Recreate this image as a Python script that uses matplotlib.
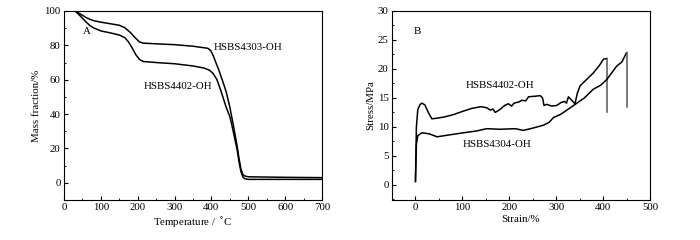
import numpy as np
import matplotlib.pyplot as plt
from matplotlib.ticker import MultipleLocator

plt.rcParams['font.family'] = ['Liberation Serif', 'DejaVu Serif']
plt.rcParams['font.size'] = 7.8

# A: TGA curves
temp_4303 = [30, 40, 50, 60, 70, 80, 100, 125, 150, 165, 180, 195, 205, 215, 250, 300,
             350, 390, 398, 405, 412, 420, 430, 440, 450, 460, 465, 470, 475, 480, 485,
             490, 500, 600, 700]
mass_4303 = [100, 98.8, 97.5, 96.2, 95.2, 94.4, 93.5, 92.6, 91.7, 90.3, 87.5, 84, 82, 81.3,
             80.9, 80.4, 79.5, 78.3, 77, 74, 70, 65.7, 59.5, 53, 44, 33, 27, 21, 14, 8, 5,
             4, 3.5, 3.2, 3.0]
temp_4402 = [30, 40, 50, 60, 70, 80, 100, 125, 150, 165, 175, 185, 195, 205, 215, 250,
             300, 350, 380, 395, 405, 415, 425, 440, 450, 455, 460, 465, 470, 475, 480,
             485, 490, 500, 600, 700]
mass_4402 = [100, 98, 95.8, 93.6, 91.6, 90.2, 88.4, 87.3, 86, 84.5, 82, 78.5, 74.5, 71.8,
             70.6, 70, 69.3, 68, 66.8, 65.5, 63.5, 60, 54, 44, 38.5, 34, 29, 24, 19, 12,
             6.6, 3.5, 2.4, 2.0, 2.0, 2.0]

# B: stress-strain curves
strain_4402 = [0, 2, 5, 10, 14, 20, 28, 35, 45, 60, 80, 101, 120, 140, 152, 160, 165, 170,
               180, 190, 198, 205, 210, 220, 227, 235, 241, 255, 266, 271, 274, 280, 290,
               301, 310, 318, 322, 326, 333, 340, 345, 351, 365, 379, 392, 401, 408, 408]
stress_4402 = [0.6, 10, 13, 13.9, 14.1, 13.8, 12.4, 11.4, 11.5, 11.7, 12.1, 12.7, 13.2, 13.5,
               13.3, 12.9, 13.1, 12.5, 13.0, 13.7, 14.0, 13.6, 14.1, 14.3, 14.6, 14.5, 15.2,
               15.3, 15.4, 15.0, 13.7, 13.9, 13.6, 13.7, 14.2, 14.4, 14.1, 15.2, 14.6, 14.0,
               15.8, 17.1, 18.2, 19.3, 20.6, 21.7, 21.8, 12.5]
strain_4304 = [0, 2, 5, 14, 30, 46, 70, 103, 130, 152, 180, 213, 230, 250, 273, 285, 294,
               310, 337, 360, 379, 395, 408, 429, 440, 450, 450]
stress_4304 = [0.6, 7.0, 8.5, 9.0, 8.8, 8.3, 8.6, 9.0, 9.3, 9.7, 9.6, 9.7, 9.4, 9.8, 10.3,
               10.8, 11.6, 12.2, 13.7, 15.0, 16.5, 17.2, 18.2, 20.5, 21.2, 22.8, 13.4]

fig = plt.figure(figsize=(7, 2.4), dpi=100)
ax1 = fig.add_axes([0.0914, 0.1667, 0.3686, 0.7875])
ax2 = fig.add_axes([0.56, 0.1667, 0.3686, 0.7875])

for ax in (ax1, ax2):
    ax.tick_params(which='both', direction='in', top=False, right=False, labelsize=7.8, pad=2.5)
    ax.tick_params(which='major', length=3)
    ax.tick_params(which='minor', length=1.5)
    for s in ax.spines.values():
        s.set_linewidth(0.8)

ax1.plot(temp_4303, mass_4303, color='black', lw=1.1)
ax1.plot(temp_4402, mass_4402, color='black', lw=1.1)
ax1.set_xlim(0, 700)
ax1.set_ylim(-10, 100)
ax1.xaxis.set_major_locator(MultipleLocator(100))
ax1.xaxis.set_minor_locator(MultipleLocator(50))
ax1.yaxis.set_major_locator(MultipleLocator(20))
ax1.yaxis.set_minor_locator(MultipleLocator(10))
ax1.set_xlabel('Temperature / $^\\circ\\!$C', labelpad=2)
ax1.set_ylabel('Mass fraction/%', labelpad=2)
ax1.text(52, 88, 'A', va='center')
ax1.text(405, 78.7, 'HSBS4303-OH', va='center')
ax1.text(217, 55.8, 'HSBS4402-OH', va='center')

ax2.plot(strain_4402[:-1], stress_4402[:-1], color='black', lw=1.1)
ax2.plot(strain_4402[-2:], stress_4402[-2:], color='#555555', lw=1.1)
ax2.plot(strain_4304[:-1], stress_4304[:-1], color='black', lw=1.1)
ax2.plot(strain_4304[-2:], stress_4304[-2:], color='#555555', lw=1.1)
ax2.set_xlim(-50, 500)
ax2.set_ylim(-2.6, 30)
ax2.xaxis.set_major_locator(MultipleLocator(100))
ax2.xaxis.set_minor_locator(MultipleLocator(50))
ax2.yaxis.set_major_locator(MultipleLocator(5))
ax2.yaxis.set_minor_locator(MultipleLocator(2.5))
ax2.set_xlabel('Strain/%', labelpad=2)
ax2.set_ylabel('Stress/MPa', labelpad=2)
ax2.text(-3, 26.5, 'B', va='center')
ax2.text(106, 17.1, 'HSBS4402-OH', va='center')
ax2.text(101, 7.0, 'HSBS4304-OH', va='center')

fig.savefig('out.png', dpi=100)
